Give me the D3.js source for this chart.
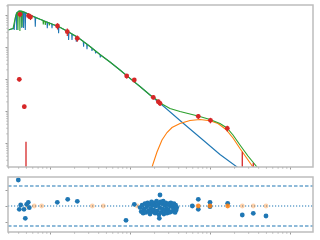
<!DOCTYPE html>
<html>
<head>
<meta charset="utf-8">
<script src="https://cdn.jsdelivr.net/npm/d3@7"></script>
<style>
  html, body { margin: 0; padding: 0; background: #fff; overflow: hidden; }
</style>
</head>
<body>
<svg id="chart" width="320" height="240"></svg>
<script>
// stellar model (wavelength in micron, flux in Jy)
const starWave = [0.2985, 0.3447, 0.3537, 0.3568, 0.3599, 0.3704, 0.3802, 0.3835, 0.3868, 0.4097,
  0.4402, 0.4440, 0.4479, 0.4636, 0.4677, 0.4718, 0.4870, 0.4912, 0.4955, 0.5623,
  0.6494, 0.6551, 0.6607, 0.7499, 0.9173, 0.9252, 0.9333, 1.0, 1.0501, 1.0593,
  1.0684, 1.1548, 1.2698, 1.2808, 1.2919, 1.5399, 1.6935, 1.7082, 1.7231, 1.8673,
  1.8836, 1.8999, 2.1135, 2.1318, 2.1503, 2.3714, 2.6078, 2.6303, 2.6531, 2.8760,
  2.9009, 2.9261, 3.3200, 3.3497, 3.3787, 3.6836, 3.7154, 3.7477, 4.2170, 4.2536,
  4.2905, 5.6234, 7.4989, 10.0, 13.335, 19.39, 27.38, 42.17, 56.23, 81.75,
  133.35, 217.5, 316.2];
const starFlux = [0.3398, 0.3785, 0.4068, 0.3398, 0.4870, 0.8660, 1.1141, 0.3398, 1.1968, 1.3335,
  1.2957, 0.3924, 1.2864, 1.2409, 0.3924, 1.2320, 1.1968, 0.3398, 1.1798, 1.0,
  0.8537, 0.4309, 0.8414, 0.7338, 0.6001, 0.3840, 0.5915, 0.5503, 0.5233, 0.3840,
  0.5157, 0.4800, 0.4371, 0.2680, 0.4279, 0.3398, 0.2985, 0.1655, 0.2901, 0.2585,
  0.1655, 0.2512, 0.2145, 0.1464, 0.2084, 0.1778, 0.1496, 0.1022, 0.1443, 0.1250,
  0.08475, 0.1206, 0.09441, 0.07499, 0.09107, 0.07662, 0.06261, 0.07391, 0.05830, 0.04696,
  0.05623, 0.03398, 0.01911, 0.01051, 0.005830, 0.002641, 0.001286, 0.0005048, 0.0002738, 0.0001241,
  0.00004370, 0.00001778, 0.00000806];

// total model (star + dust)
const totalWave = [0.2985, 0.3447, 0.3704, 0.3868, 0.3936, 0.3970, 0.4004, 0.4097, 0.4169, 0.4205,
  0.4242, 0.4427, 0.4467, 0.4506, 0.4870, 0.5623, 0.6494, 0.7499, 0.8175, 0.8246,
  0.8318, 0.8660, 0.8736, 0.8810, 0.9716, 0.9801, 0.9886, 1.0, 1.1548, 1.3335,
  1.5399, 1.7783, 2.0535, 2.3714, 3.1623, 4.2170, 5.6234, 7.4989, 10.0, 13.335,
  17.783, 21.75, 25.12, 31.62, 42.17, 56.23, 70.79, 100.0, 133.35, 163.1,
  193.9, 237.1, 298.5, 386.7, 446.7];
const totalFlux = [0.3398, 0.3785, 0.8660, 1.1968, 1.2142, 0.3398, 1.2409, 1.3335, 1.3335, 0.3162,
  1.3335, 1.3051, 0.4217, 1.2957, 1.1968, 1.0, 0.8537, 0.7338, 0.6733, 0.5047,
  0.6636, 0.6355, 0.4870, 0.6264, 0.5663, 0.4697, 0.5582, 0.5503, 0.4800, 0.4157,
  0.3398, 0.2779, 0.2239, 0.1778, 0.1037, 0.05830, 0.03398, 0.01911, 0.01051, 0.005830,
  0.003162, 0.002207, 0.001655, 0.001197, 0.0009647, 0.0008058, 0.0006978, 0.0005423, 0.0004068, 0.0002943,
  0.0001778, 0.00008660, 0.00003924, 0.00001778, 0.00001074];

// cold dust component
const dustWave = [17.28, 19.39, 21.75, 25.12, 29.00, 33.50, 42.17, 56.23, 74.99, 100.0,
  125.9, 158.5, 193.9, 237.1, 290.0, 344.7, 386.7];
const dustFlux = [0.00000866, 0.00002207, 0.00005233, 0.0001241, 0.0002129, 0.0003050, 0.0004068, 0.0005048, 0.0005423, 0.0004940,
  0.0004068, 0.0002641, 0.0001433, 0.00006733, 0.00003280, 0.00001778, 0.00001155];

// photometry
const photWave = [0.4217, 0.5384, 0.5705, 1.2409, 1.6454, 2.1940, 0.4132, 0.4773, 9.093, 11.32,
  19.55, 22.58, 23.71, 71.41, 101.4, 164.5];
const photFlux = [1.0517, 0.9509, 0.8660, 0.4529, 0.3007, 0.1870, 0.009787, 0.001362, 0.01241, 0.009306,
  0.002680, 0.001953, 0.001740, 0.0006830, 0.0005121, 0.0002880];
const photErr = [0.20, 0.18, 0.17, 0.10, 0.08, 0.04, 0.0015, 0.0002, 0.002, 0.0015,
  0.0004, 0.0003, 0.0003, 0.00012, 0.0001, 0.00006];
// bands whose lower error runs off the axis
const limitWave = [0.5012, 253.3, 347.7];
const limitFlux = [0.0001098, 0.00005349, 0.00002371];

// residuals of photometry
const residWave = [0.4016, 0.4302, 0.4132, 0.4732, 0.5113, 0.5355, 0.5512, 0.4912, 1.2338, 1.6645,
  2.194, 8.913, 11.32, 23.71, 23.24, 60.09, 71.41, 71.41, 100.0, 100.0,
  166.4, 253.3, 347.7, 501.2];
const residVal = [1.625, 0.0625, -0.206, -0.206, 0.106, 0.231, -0.106, -0.769, 0.231, 0.419,
  0.294, -0.894, 0.106, 0.6875, -0.769, 0.0, 0.419, -0.206, 0.231, -0.044,
  0.169, -0.5625, -0.456, -0.625];
// residuals of the spectrum
const specWave = [13.4, 13.8, 14.2, 14.6, 15.0, 15.4, 15.8, 16.2, 16.6, 17.0,
  17.4, 17.8, 18.2, 18.6, 19.0, 19.4, 19.8, 20.2, 20.6, 21.0,
  21.5, 22.0, 22.5, 23.0, 23.5, 24.0, 24.5, 25.0, 25.5, 26.0,
  26.5, 27.0, 27.5, 28.0, 28.5, 29.0, 29.5, 30.0, 30.6, 31.2,
  31.8, 32.4, 33.0, 33.6, 34.2, 34.8, 35.4, 36.0, 36.6, 37.2,
  37.8, 38.4];
const specResid = [-0.10, -0.35, 0.05, -0.45, -0.20, 0.15, -0.40, -0.05, 0.20, -0.30,
  0.10, -0.50, -0.15, 0.25, -0.35, 0.05, -0.25, 0.20, -0.45, 0.00,
  0.30, -0.30, 0.10, -0.55, -0.10, 0.25, -0.40, 0.15, -0.20, 0.30,
  -0.50, 0.05, -0.30, 0.20, -0.15, -0.45, 0.10, -0.25, 0.15, -0.40,
  0.00, 0.20, -0.35, -0.05, 0.10, -0.30, 0.15, -0.20, -0.40, 0.05,
  -0.25, -0.10];
const residFitWave = [71.41, 100.0, 166.4];
const residLimWave = [0.5201, 0.6364, 0.7875, 3.379, 4.637, 12.34, 253.3, 347.7, 501.2];
const bandLimit = 1.25;

const blue = "#1f77b4", orange = "#ff7f0e", green = "#2ca02c", red = "#d62728";
const frameColor = "#bdbdbd", tickColor = "#9a9a9a";

const svg = d3.select("#chart");
const left = 8, right = 313;
const top1 = 5, bot1 = 167, top2 = 177, bot2 = 232;

const x = d3.scaleLog().domain([0.29854, 1939.3]).range([left, right]);
const y = d3.scaleLog().domain([1.778e-5, 2.054]).range([bot1, top1]);
const yr = d3.scaleLinear().domain([-1.625, 1.8125]).range([bot2, top2]);

const isMajor = v => Math.abs(Math.log10(v) - Math.round(Math.log10(v))) < 1e-6;

svg.append("clipPath").attr("id", "clipTop")
  .append("rect").attr("x", left).attr("y", top1).attr("width", right - left).attr("height", bot1 - top1);
svg.append("clipPath").attr("id", "clipBot")
  .append("rect").attr("x", left).attr("y", top2).attr("width", right - left).attr("height", bot2 - top2);

// axes with major and minor ticks
function drawAxis(g, axisFn, scale, values, size) {
  const a = g.append("g")
    .call(axisFn(scale).tickValues(values).tickSize(size).tickFormat(""));
  a.select(".domain").remove();
  a.selectAll("line").attr("stroke", tickColor).attr("stroke-width", 1);
}
const xt = x.ticks();
const yt = y.ticks();
[bot1, bot2].forEach(b => {
  const g = svg.append("g").attr("transform", `translate(0,${b})`);
  drawAxis(g, d3.axisBottom, x, xt.filter(v => !isMajor(v)), 1.5);
  drawAxis(g, d3.axisBottom, x, xt.filter(isMajor), 2.5);
});
const gy = svg.append("g").attr("transform", `translate(${left},0)`);
drawAxis(gy, d3.axisLeft, y, yt.filter(v => !isMajor(v)), 1.5);
drawAxis(gy, d3.axisLeft, y, yt.filter(isMajor), 2.5);
const gyr = svg.append("g").attr("transform", `translate(${left},0)`);
drawAxis(gyr, d3.axisLeft, yr, [-1, 0, 1], 2.5);

// top panel: models
const line = d3.line().x(d => x(d[0])).y(d => y(d[1]));
const plot = svg.append("g").attr("clip-path", "url(#clipTop)");
function series(w, f, color) {
  plot.append("path")
    .datum(d3.zip(w, f))
    .attr("d", line)
    .attr("fill", "none")
    .attr("stroke", color)
    .attr("stroke-width", 1.1);
}
series(starWave, starFlux, blue);
series(dustWave, dustFlux, orange);
series(totalWave, totalFlux, green);

// photometry with error bars
plot.selectAll(".lim").data(d3.zip(limitWave, limitFlux)).join("line")
  .attr("x1", d => x(d[0])).attr("x2", d => x(d[0]))
  .attr("y1", d => y(d[1])).attr("y2", bot1 + 2)
  .attr("stroke", red).attr("stroke-width", 1.3);
const phot = d3.zip(photWave, photFlux, photErr);
plot.selectAll(".err").data(phot).join("line")
  .attr("x1", d => x(d[0])).attr("x2", d => x(d[0]))
  .attr("y1", d => y(d[1] + d[2])).attr("y2", d => y(d[1] - d[2]))
  .attr("stroke", red).attr("stroke-width", 1.2);
plot.selectAll(".pt").data(phot).join("circle")
  .attr("cx", d => x(d[0])).attr("cy", d => y(d[1])).attr("r", 2.4)
  .attr("fill", red);

// bottom panel: residuals
const res = svg.append("g").attr("clip-path", "url(#clipBot)");
[-bandLimit, bandLimit].forEach(v => {
  res.append("line").attr("x1", left).attr("x2", right)
    .attr("y1", yr(v)).attr("y2", yr(v))
    .attr("stroke", blue).attr("stroke-width", 1.1).attr("stroke-dasharray", "3.5,2");
});
res.append("line").attr("x1", left).attr("x2", right)
  .attr("y1", yr(0)).attr("y2", yr(0))
  .attr("stroke", blue).attr("stroke-width", 1.1).attr("stroke-dasharray", "1.2,1.8");

res.selectAll(".lim").data(residLimWave).join("circle")
  .attr("cx", d => x(d)).attr("cy", yr(0)).attr("r", 2.4)
  .attr("fill", orange).attr("opacity", 0.35);
res.selectAll(".spec").data(d3.zip(specWave, specResid)).join("circle")
  .attr("cx", d => x(d[0])).attr("cy", d => yr(d[1])).attr("r", 2.4)
  .attr("fill", blue);
res.selectAll(".rp").data(d3.zip(residWave, residVal)).join("circle")
  .attr("cx", d => x(d[0])).attr("cy", d => yr(d[1])).attr("r", 2.4)
  .attr("fill", blue);
res.selectAll(".fit").data(residFitWave).join("circle")
  .attr("cx", d => x(d)).attr("cy", yr(0)).attr("r", 2.4)
  .attr("fill", orange).attr("opacity", 0.85);

// frames
[[top1, bot1], [top2, bot2]].forEach(([t, b]) => {
  svg.append("rect").attr("x", left).attr("y", t)
    .attr("width", right - left).attr("height", b - t)
    .attr("fill", "none").attr("stroke", frameColor).attr("stroke-width", 1.5);
});
</script>
</body>
</html>
